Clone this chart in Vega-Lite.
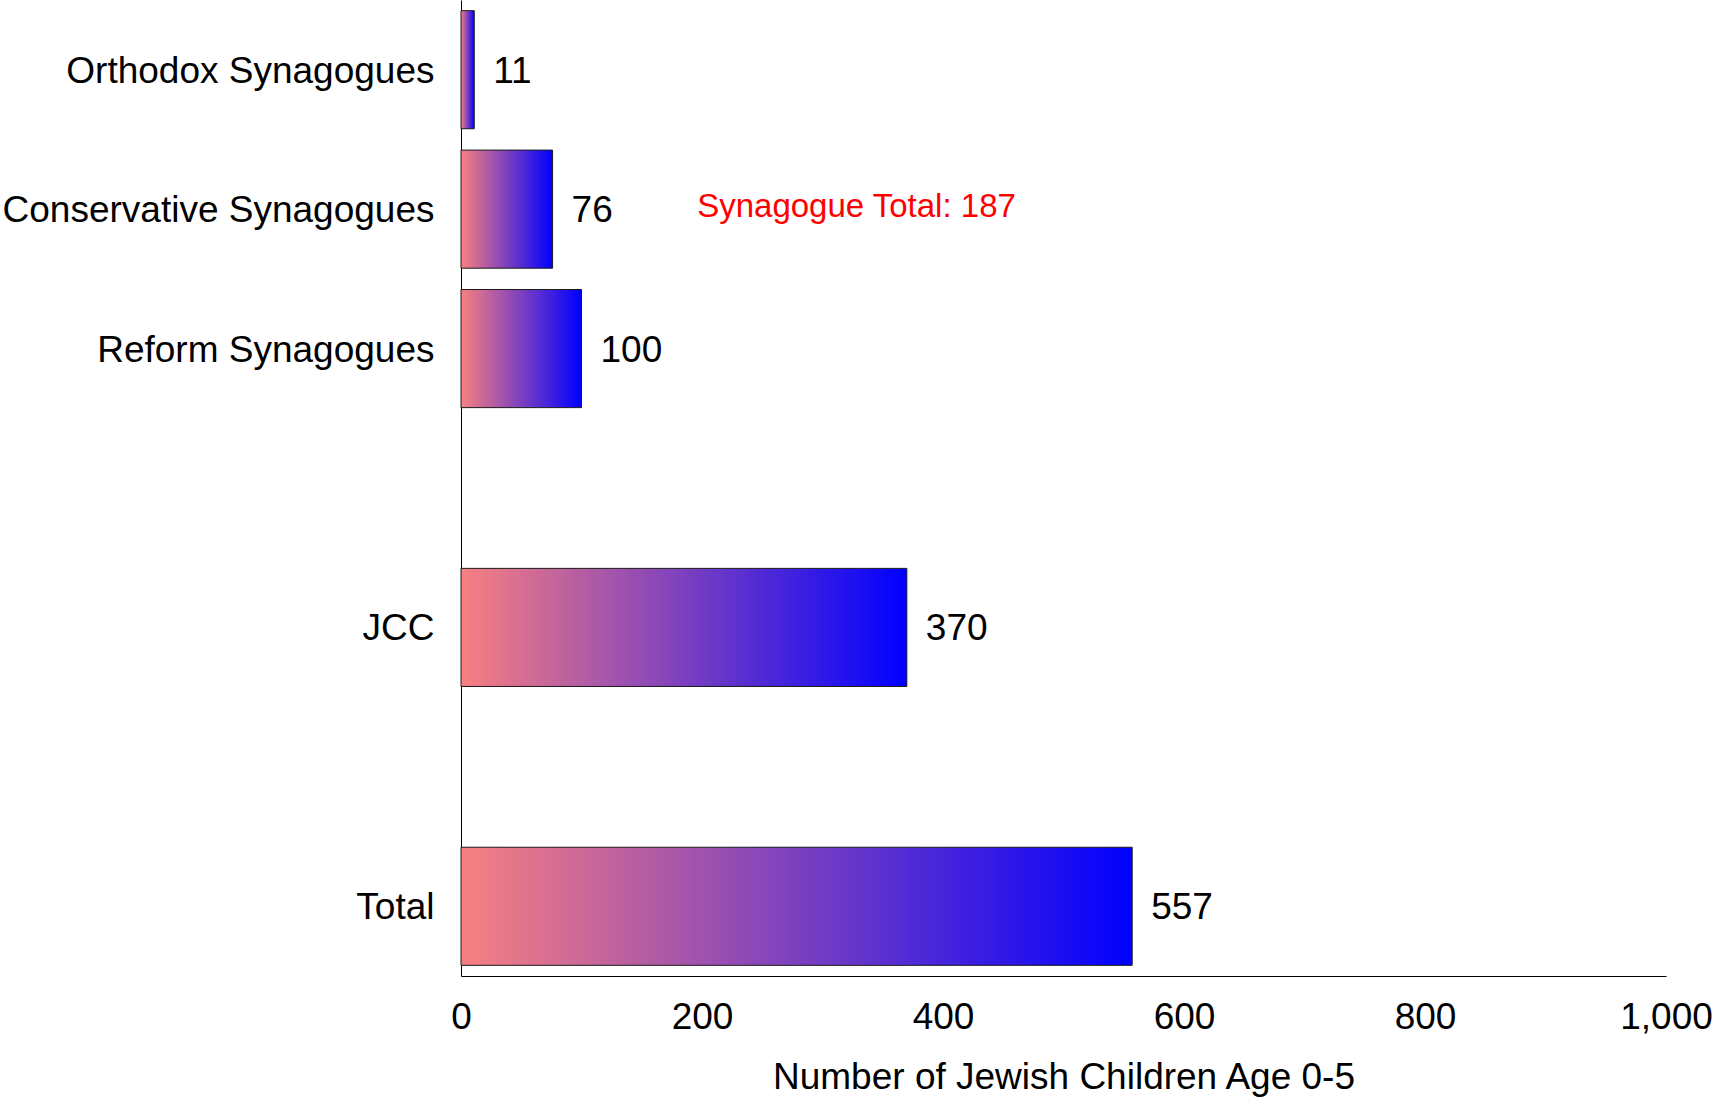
{
  "$schema": "https://vega.github.io/schema/vega-lite/v6.json",
  "width": 1205,
  "height": 976,
  "autosize": {"type": "none"},
  "padding": {"left": 461, "top": 0, "right": 47, "bottom": 121},
  "background": "white",
  "config": {
    "view": {"stroke": null},
    "font": "Liberation Sans",
    "axis": {"grid": false, "ticks": false, "tickSize": 0, "domainColor": "#000000", "domainWidth": 1, "labelFont": "Liberation Sans", "titleFont": "Liberation Sans", "labelColor": "#000000", "titleColor": "#000000"}
  },
  "datasets": {
    "bars": [
      {"category": "Orthodox Synagogues", "children": 11},
      {"category": "Conservative Synagogues", "children": 76},
      {"category": "Reform Synagogues", "children": 100},
      {"category": "JCC", "children": 370},
      {"category": "Total", "children": 557}
    ],
    "note": [
      {"category": "Conservative Synagogues", "x": 196, "label": "Synagogue Total: 187"}
    ]
  },
  "encoding": {
    "y": {
      "field": "category",
      "type": "nominal",
      "sort": null,
      "scale": {
        "domain": ["Orthodox Synagogues", "Conservative Synagogues", "Reform Synagogues", "gap1", "JCC", "gap2", "Total"],
        "paddingInner": 0.153,
        "paddingOuter": 0.0765
      },
      "axis": {
        "title": null,
        "labelFontSize": 37,
        "labelPadding": 27,
        "labelOffset": 2,
        "labelAlign": "right",
        "labelBaseline": "middle",
        "labelExpr": "indexof(datum.value, 'gap') === 0 ? '' : datum.value",
        "labelLimit": 600
      }
    }
  },
  "layer": [
    {
      "data": {"name": "bars"},
      "mark": {
        "type": "bar",
        "stroke": "#1a1a1a",
        "strokeWidth": 1,
        "color": {
          "gradient": "linear",
          "x1": 0, "y1": 0, "x2": 1, "y2": 0,
          "stops": [
            {"offset": 0, "color": "#f88080"},
            {"offset": 1, "color": "#0000ff"}
          ]
        }
      },
      "encoding": {
        "x": {
          "field": "children",
          "type": "quantitative",
          "scale": {"domain": [0, 1000], "nice": false},
          "axis": {
            "title": "Number of Jewish Children Age 0-5",
            "titleFontSize": 37,
            "titleFontWeight": "normal",
            "titleBaseline": "alphabetic",
            "titleY": 112,
            "values": [0, 200, 400, 600, 800, 1000],
            "format": ",d",
            "labelFontSize": 37,
            "labelBaseline": "alphabetic",
            "labelPadding": 52,
            "labelFlush": false,
            "labelOverlap": false
          }
        }
      }
    },
    {
      "data": {"name": "bars"},
      "mark": {"type": "text", "align": "left", "baseline": "middle", "dx": 19, "dy": 2, "fontSize": 37, "color": "#000000"},
      "encoding": {
        "x": {"field": "children", "type": "quantitative"},
        "text": {"field": "children", "type": "quantitative", "format": "d"}
      }
    },
    {
      "data": {"name": "note"},
      "mark": {"type": "text", "align": "left", "baseline": "middle", "dy": -2, "fontSize": 33, "color": "#ff0000"},
      "encoding": {
        "x": {"field": "x", "type": "quantitative"},
        "text": {"field": "label"}
      }
    }
  ]
}
